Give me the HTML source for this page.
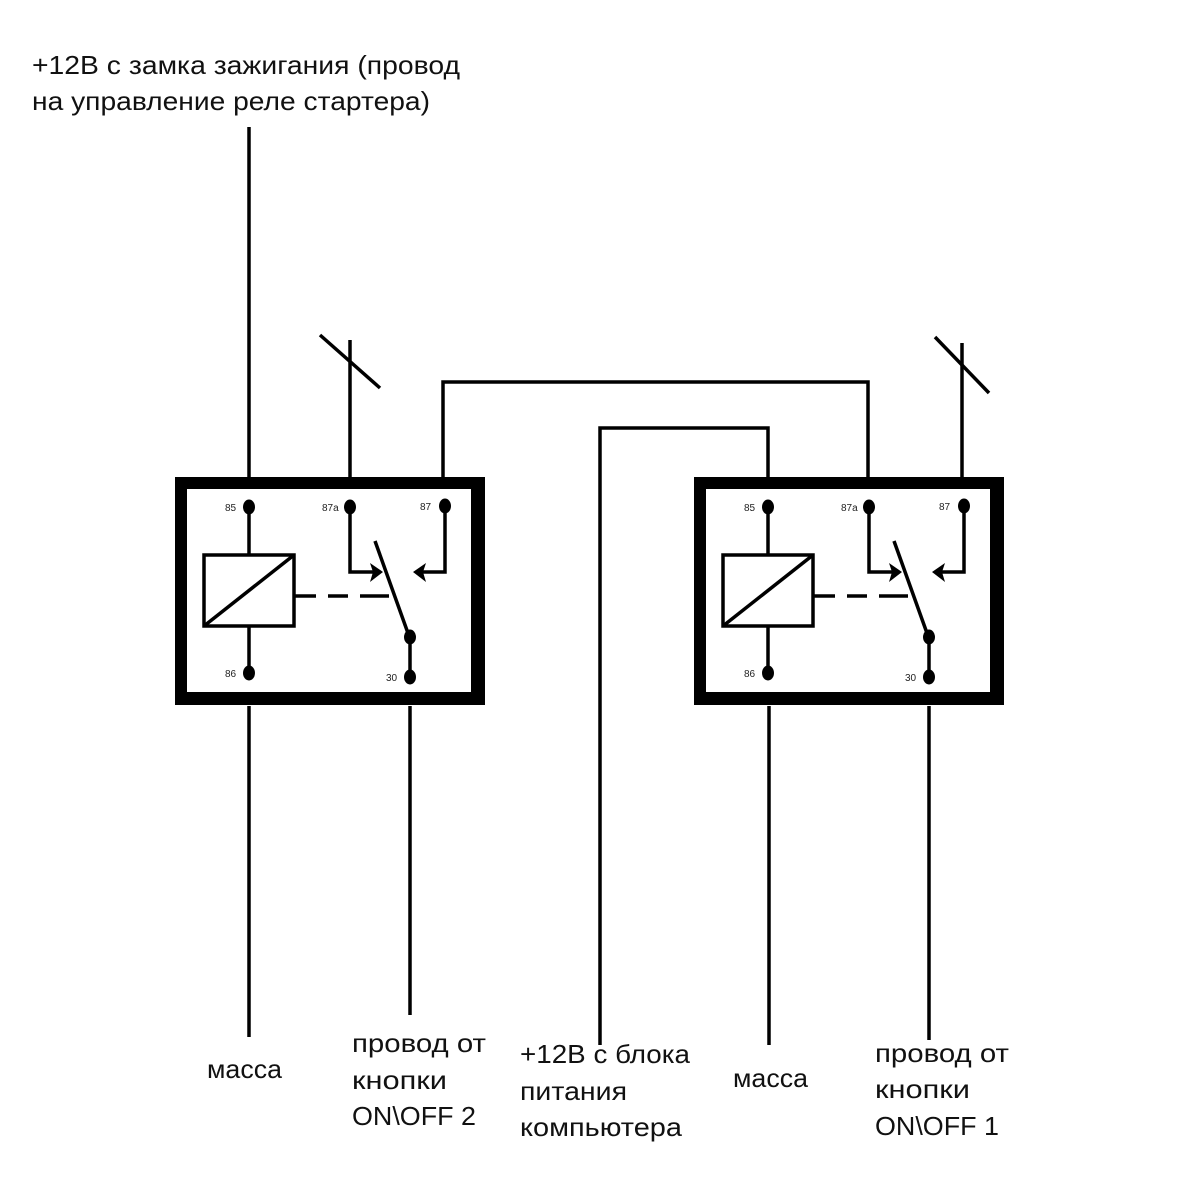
<!DOCTYPE html>
<html><head><meta charset="utf-8"><style>html,body{margin:0;padding:0;background:#fff}svg{display:block}</style></head>
<body>
<svg width="1200" height="1200" viewBox="0 0 1200 1200" xmlns="http://www.w3.org/2000/svg">
<defs>
<g id="relay">
  <rect x="181" y="483" width="298" height="216" fill="#fff" stroke="#000" stroke-width="12"/>
  <rect x="181" y="692" width="298" height="10" fill="#000"/>
  <rect x="471" y="483" width="10" height="216" fill="#000"/>
  <g stroke="#000" stroke-width="3.5" fill="none">
    <line x1="249" y1="507" x2="249" y2="554"/>
    <line x1="249" y1="627" x2="249" y2="673"/>
    <rect x="204" y="555" width="90" height="71"/>
    <line x1="204" y1="626" x2="294" y2="555"/>
    <line x1="294" y1="596" x2="316" y2="596"/>
    <line x1="328" y1="596" x2="348" y2="596"/>
    <line x1="360" y1="596" x2="389" y2="596"/>
    <line x1="375" y1="541" x2="409" y2="636"/>
    <line x1="410" y1="637" x2="410" y2="677"/>
    <polyline points="350,507 350,572 378,572"/>
    <polyline points="445,506 445,572 420,572"/>
  </g>
  <path d="M383,572 L370,563 L373,572 L370,582 Z" fill="#000"/>
  <path d="M413,572 L426,563 L423,572 L426,582 Z" fill="#000"/>
  <g fill="#000">
    <ellipse cx="249" cy="507" rx="6" ry="7.5"/>
    <ellipse cx="350" cy="507" rx="6" ry="7.5"/>
    <ellipse cx="445" cy="506" rx="6" ry="7.5"/>
    <ellipse cx="249" cy="673" rx="6" ry="7.5"/>
    <ellipse cx="410" cy="637" rx="6" ry="7.5"/>
    <ellipse cx="410" cy="677" rx="6" ry="7.5"/>
  </g>
  <g font-family="Liberation Sans, sans-serif" font-size="10" fill="#222">
    <text x="225" y="511">85</text>
    <text x="322" y="511">87a</text>
    <text x="420" y="510">87</text>
    <text x="225" y="677">86</text>
    <text x="386" y="681">30</text>
  </g>
</g>
</defs>
<use href="#relay"/>
<use href="#relay" transform="translate(519,0)"/>
<g stroke="#000" stroke-width="3.5" fill="none">
  <line x1="249" y1="127" x2="249" y2="477"/>
  <line x1="350" y1="340" x2="350" y2="477"/>
  <line x1="320" y1="335" x2="380" y2="388"/>
  <polyline points="443,477 443,382 868,382 868,477"/>
  <polyline points="600,1045 600,428 768,428 768,477"/>
  <line x1="962" y1="343" x2="962" y2="477"/>
  <line x1="935" y1="337" x2="989" y2="393"/>
  <line x1="249" y1="706" x2="249" y2="1037"/>
  <line x1="410" y1="706" x2="410" y2="1015"/>
  <line x1="769" y1="706" x2="769" y2="1045"/>
  <line x1="929" y1="706" x2="929" y2="1040"/>
</g>
<g font-family="Liberation Sans, sans-serif" font-size="26" fill="#111">
  <text x="32" y="74" textLength="428" lengthAdjust="spacingAndGlyphs">+12В с замка зажигания (провод</text>
  <text x="32" y="110" textLength="398" lengthAdjust="spacingAndGlyphs">на управление реле стартера)</text>
  <text x="207" y="1078" textLength="75" lengthAdjust="spacingAndGlyphs">масса</text>
  <text x="352" y="1052" textLength="134" lengthAdjust="spacingAndGlyphs">провод от</text>
  <text x="352" y="1089" textLength="95" lengthAdjust="spacingAndGlyphs">кнопки</text>
  <text x="352" y="1125" textLength="124" lengthAdjust="spacingAndGlyphs">ON\OFF 2</text>
  <text x="520" y="1063" textLength="170" lengthAdjust="spacingAndGlyphs">+12В с блока</text>
  <text x="520" y="1100" textLength="107" lengthAdjust="spacingAndGlyphs">питания</text>
  <text x="520" y="1136" textLength="162" lengthAdjust="spacingAndGlyphs">компьютера</text>
  <text x="733" y="1087" textLength="75" lengthAdjust="spacingAndGlyphs">масса</text>
  <text x="875" y="1062" textLength="134" lengthAdjust="spacingAndGlyphs">провод от</text>
  <text x="875" y="1098" textLength="95" lengthAdjust="spacingAndGlyphs">кнопки</text>
  <text x="875" y="1135" textLength="124" lengthAdjust="spacingAndGlyphs">ON\OFF 1</text>
</g>
</svg>
</body></html>
